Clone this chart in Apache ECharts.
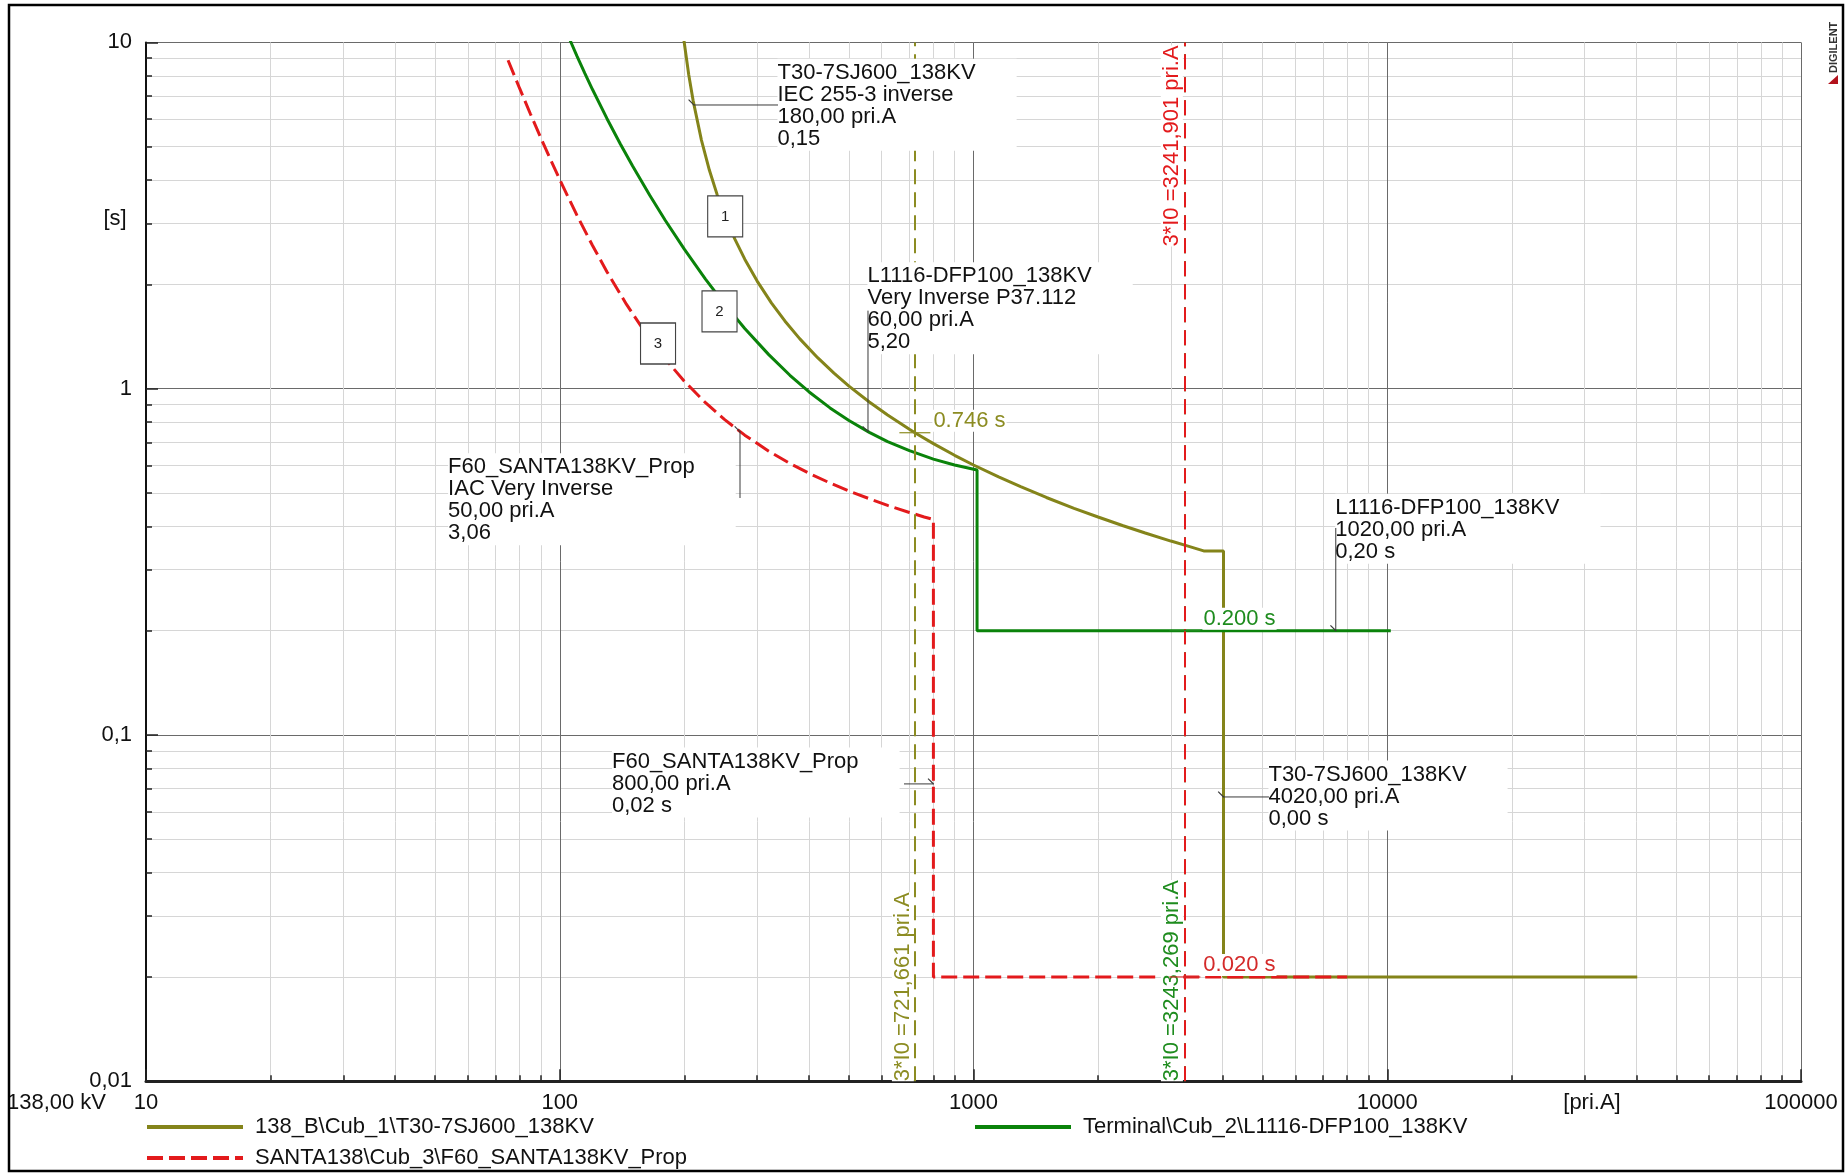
<!DOCTYPE html>
<html>
<head>
<meta charset="utf-8">
<script src="https://cdn.jsdelivr.net/npm/echarts@6/dist/echarts.min.js"></script>
<style>
  html, body { margin: 0; padding: 0; background: #fff; }
  #chart { width: 1845px; height: 1173px; }
</style>
</head>
<body>
<div id="chart"></div>
<script>
const FONT = "'Liberation Sans', Arial, Helvetica, sans-serif";
const OLIVE = '#84841a';
const GREEN = '#0a830a';
const RED = '#e31a1c';

// Axis tick values
const xTicks = [10, 100, 1000, 10000, 100000];   // current [pri.A]
const yTicks = [0.01, 0.1, 1, 10];               // time [s]

// Relay 1: 138_B\Cub_1\T30-7SJ600_138KV  (IEC 255-3 inverse, 180 A, 0.15)
const t30Name = '138_B\\Cub_1\\T30-7SJ600_138KV';
const t30Current = [198, 200, 205, 210, 220, 230, 240, 250, 265, 280, 300, 325, 350, 380, 420, 460, 500, 560, 620, 700, 721.661, 800, 900, 1000, 1150, 1300, 1500, 1750, 2000, 2300, 2600, 3000, 3300, 3600, 4020, 4020, 40200];
const t30Time = [11.01, 9.955, 8.063, 6.801, 5.222, 4.273, 3.639, 3.186, 2.704, 2.366, 2.045, 1.767, 1.569, 1.395, 1.229, 1.109, 1.017, 0.915, 0.839, 0.763, 0.746, 0.694, 0.642, 0.602, 0.556, 0.521, 0.485, 0.451, 0.426, 0.402, 0.383, 0.363, 0.351, 0.340, 0.340, 0.02, 0.02];

// Relay 2: Terminal\Cub_2\L1116-DFP100_138KV  (Very Inverse P37.112, 60 A, 5.20)
const dfpName = 'Terminal\\Cub_2\\L1116-DFP100_138KV';
const dfpCurrent = [105, 106.5, 110, 115, 120, 130, 140, 150, 165, 180, 200, 225, 250, 280, 320, 360, 400, 450, 500, 560, 620, 700, 800, 900, 1020, 1020, 10200];
const dfpTime = [10.40, 9.994, 9.148, 8.139, 7.309, 6.031, 5.099, 4.395, 3.618, 3.060, 2.528, 2.072, 1.757, 1.492, 1.254, 1.093, 0.980, 0.880, 0.809, 0.748, 0.703, 0.662, 0.626, 0.602, 0.582, 0.2, 0.2];

// Relay 3: SANTA138\Cub_3\F60_SANTA138KV_Prop  (IAC Very Inverse, 50 A, 3.06)
const f60Name = 'SANTA138\\Cub_3\\F60_SANTA138KV_Prop';
const f60Current = [75, 80, 85, 90, 95, 100, 110, 120, 130, 145, 160, 180, 200, 225, 250, 280, 320, 360, 400, 450, 500, 560, 620, 700, 760, 800, 800, 8000];
const f60Time = [8.878, 7.362, 6.202, 5.300, 4.587, 4.015, 3.170, 2.590, 2.177, 1.751, 1.468, 1.217, 1.051, 0.911, 0.815, 0.734, 0.660, 0.608, 0.570, 0.534, 0.506, 0.481, 0.460, 0.439, 0.426, 0.419, 0.02, 0.02];

// Fault currents (3*I0) seen by each relay
const faultCurrent = [721.661, 3243.269, 3241.901];
const faultText = ['3*I0 =721,661 pri.A', '3*I0 =3243,269 pri.A', '3*I0 =3241,901 pri.A'];

// Trip times at those fault currents
const tripCurrent = [721.661, 3243.269, 3241.901];
const tripTime = [0.746, 0.2, 0.02];
const tripText = ['0.746 s', '0.200 s', '0.020 s'];

// Setting annotations: text block anchored at its upper-left corner
const noteText = [
  'T30-7SJ600_138KV\nIEC 255-3 inverse\n180,00 pri.A\n0,15',
  'L1116-DFP100_138KV\nVery Inverse P37.112\n60,00 pri.A\n5,20',
  'F60_SANTA138KV_Prop\nIAC Very Inverse\n50,00 pri.A\n3,06',
  'F60_SANTA138KV_Prop\n800,00 pri.A\n0,02 s',
  'T30-7SJ600_138KV\n4020,00 pri.A\n0,00 s',
  'L1116-DFP100_138KV\n1020,00 pri.A\n0,20 s'
];
const noteCurrent = [336.9, 555.9, 53.87, 134.1, 5177, 7509];
const noteTime = [8.936, 2.311, 0.6491, 0.09169, 0.08409, 0.4954];

// Leader lines: first point sits on the curve, second on the annotation
const leaderLines = [
  [[211.0, 6.595], [336.9, 6.595]],
  [[555.9, 0.751], [555.9, 1.68]],
  [[272.7, 0.751], [272.7, 0.4833]],
  [[800, 0.0722], [679.3, 0.0722]],
  [[4020, 0.0662], [5177, 0.0662]],
  [[7509, 0.2], [7509, 0.396]]
];

// Numbered curve tags
const tagText = ['1', '2', '3'];
const tagCurrent = [251.1, 243.3, 172.8];
const tagTime = [3.143, 1.671, 1.3505];

const zip = (xs, ys) => xs.map((x, i) => [x, ys[i]]);
const comma = v => String(+(+v).toPrecision(6)).replace('.', ',');

const refLine = (value, text, color, position, distance) => ({
  silent: true,
  symbol: 'none',
  animation: false,
  lineStyle: { color: color, width: 2, type: [15, 8], opacity: 1 },
  emphasis: { disabled: true },
  label: {
    show: true,
    position: position,
    formatter: text,
    color: color,
    fontSize: 22,
    fontFamily: FONT,
    backgroundColor: '#fff',
    distance: distance
  },
  data: [{ xAxis: value }]
});

const curveSeries = [
  {
    name: t30Name, type: 'line', data: zip(t30Current, t30Time),
    symbol: 'none', z: 3,
    lineStyle: { color: OLIVE, width: 3 }, itemStyle: { color: OLIVE },
    markLine: refLine(faultCurrent[0], faultText[0], '#8c8c22', 'insideStartTop', [0, 1])
  },
  {
    name: dfpName, type: 'line', data: zip(dfpCurrent, dfpTime),
    symbol: 'none', z: 3,
    lineStyle: { color: GREEN, width: 3 }, itemStyle: { color: GREEN },
    markLine: refLine(faultCurrent[1], faultText[1], '#1e8c1e', 'insideStartTop', [0, 2])
  },
  {
    name: f60Name, type: 'line', data: zip(f60Current, f60Time),
    symbol: 'none', z: 3,
    lineStyle: { color: RED, width: 3, type: [16, 6] }, itemStyle: { color: RED },
    markLine: refLine(faultCurrent[2], faultText[2], RED, 'insideEndTop', [3, 2])
  }
];

// A small slanted tick marks where each leader touches its curve
const leaderSeries = leaderLines.map(pts => ({
  type: 'line', z: 6, silent: true,
  showSymbol: true,
  data: [
    { value: pts[0], symbol: 'rect', symbolSize: [1.2, 8], symbolRotate: 45, symbolOffset: [-2.5, -2.5] },
    { value: pts[1], symbol: 'none' }
  ],
  itemStyle: { color: '#3a3a3a' },
  lineStyle: { color: '#3a3a3a', width: 1 }
}));

const noteSeries = {
  type: 'scatter', z: 5, silent: true,
  symbol: 'rect', symbolSize: 1,
  itemStyle: { color: 'rgba(0,0,0,0)', opacity: 1 },
  data: noteText.map((t, i) => ({ value: [noteCurrent[i], noteTime[i]], text: t })),
  label: {
    show: true, position: [0, 0],
    formatter: p => p.data.text,
    fontSize: 22, lineHeight: 22, fontFamily: FONT, color: '#111',
    backgroundColor: '#fff', padding: [3, 41, 1, 0]
  },
  labelLayout: { hideOverlap: false }
};

const tagSeries = {
  type: 'scatter', z: 5, silent: true,
  symbol: 'rect', symbolSize: [35, 41],
  itemStyle: { color: '#fff', borderColor: '#444', borderWidth: 1.2, opacity: 1 },
  data: tagText.map((t, i) => ({ value: [tagCurrent[i], tagTime[i]], text: t })),
  label: {
    show: true, position: 'inside', formatter: p => p.data.text,
    fontSize: 15, fontFamily: FONT, color: '#222'
  }
};

const tripColors = ['#8c8c22', '#1e8c1e', '#d42a2a'];
const tripSeries = {
  type: 'scatter', z: 7, silent: true,
  symbol: 'rect', symbolSize: [31, 1.2],
  data: tripText.map((t, i) => ({
    value: [tripCurrent[i], tripTime[i]], text: t,
    itemStyle: { color: tripColors[i], opacity: 1 },
    label: { color: tripColors[i] }
  })),
  label: {
    show: true, position: 'right', distance: 2, offset: [0, -12],
    formatter: p => p.data.text,
    fontSize: 22, fontFamily: FONT,
    backgroundColor: '#fff', padding: [0, 1, 0, 1]
  }
};

const legendBase = {
  top: 1116, orient: 'vertical', padding: 0,
  itemWidth: 96, itemHeight: 22, itemGap: 9,
  selectedMode: false,
  itemStyle: { opacity: 0 },
  lineStyle: { width: 4 },
  textStyle: { fontSize: 22, color: '#111', fontFamily: FONT, padding: [0, 0, 0, 7] }
};

const chart = echarts.init(document.getElementById('chart'), null, { renderer: 'canvas' });

chart.setOption({
  animation: false,
  backgroundColor: '#fff',
  textStyle: { fontFamily: FONT },
  grid: { left: 146, right: 44, top: 42.4, bottom: 91.8, containLabel: false },
  xAxis: {
    type: 'log', logBase: 10, min: xTicks[0], max: xTicks[xTicks.length - 1],
    axisLine: { onZero: false, lineStyle: { color: '#222', width: 3 } },
    axisTick: { inside: true, length: 12, lineStyle: { color: '#222', width: 1.5 } },
    minorTick: { show: true, splitNumber: 9, length: 6, lineStyle: { color: '#222', width: 1.5 } },
    splitLine: { show: true, lineStyle: { color: '#6a6a6a', width: 1 } },
    minorSplitLine: { show: true, lineStyle: { color: '#d6d6d6', width: 1 } },
    axisLabel: {
      fontSize: 22, color: '#111', margin: 11, fontFamily: FONT,
      formatter: v => String(Math.round(v))
    }
  },
  yAxis: {
    type: 'log', logBase: 10, min: yTicks[0], max: yTicks[yTicks.length - 1],
    axisLine: { onZero: false, lineStyle: { color: '#111', width: 2 } },
    axisTick: { inside: true, length: 12, lineStyle: { color: '#222', width: 1.5 } },
    minorTick: { show: true, splitNumber: 9, length: 6, lineStyle: { color: '#222', width: 1.5 } },
    splitLine: { show: true, lineStyle: { color: '#6a6a6a', width: 1 } },
    minorSplitLine: { show: true, lineStyle: { color: '#d6d6d6', width: 1 } },
    axisLabel: { fontSize: 22, color: '#111', margin: 14, fontFamily: FONT, formatter: comma }
  },
  legend: [
    Object.assign({}, legendBase, { left: 145, data: [t30Name, f60Name] }),
    Object.assign({}, legendBase, { left: 973, data: [dfpName] })
  ],
  graphic: [
    { type: 'text', x: 115, y: 219, z: 10,
      style: { text: '[s]', font: '22px ' + FONT, fill: '#111', textAlign: 'center', textVerticalAlign: 'middle' } },
    { type: 'text', x: 1592, y: 1103, z: 10,
      style: { text: '[pri.A]', font: '22px ' + FONT, fill: '#111', textAlign: 'center', textVerticalAlign: 'middle' } },
    { type: 'text', x: 106, y: 1103, z: 10,
      style: { text: '138,00 kV', font: '22px ' + FONT, fill: '#111', textAlign: 'right', textVerticalAlign: 'middle' } },
    { type: 'text', x: 1839, y: 73, rotation: Math.PI / 2, z: 10,
      style: { text: 'DIGILENT', font: 'bold 11px ' + FONT, fill: '#333', textAlign: 'left', textVerticalAlign: 'bottom' } },
    { type: 'polygon', z: 10,
      shape: { points: [[1838, 75], [1838, 84], [1828, 84]] },
      style: { fill: '#b3121c' } },
    { type: 'rect', z: 20, silent: true,
      shape: { x: 9, y: 5, width: 1834, height: 1166 },
      style: { fill: 'none', stroke: '#000', lineWidth: 2.5 } }
  ],
  series: [...curveSeries, ...leaderSeries, noteSeries, tagSeries, tripSeries]
});
</script>
</body>
</html>
